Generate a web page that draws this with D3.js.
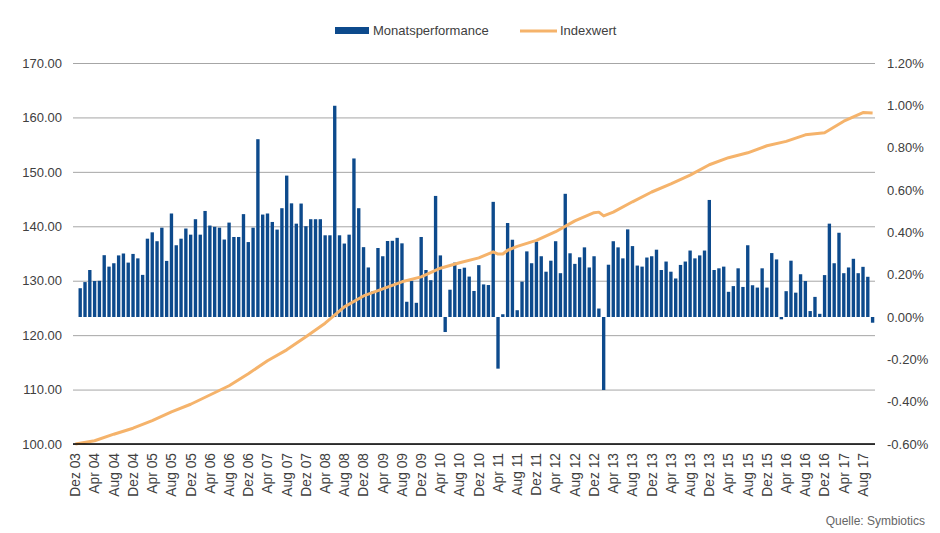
<!DOCTYPE html>
<html>
<head>
<meta charset="utf-8">
<script src="https://cdn.jsdelivr.net/npm/d3@7"></script>
<style>
  body { margin: 0; background: #fff; }
  text { font-family: "Liberation Sans", Arial, sans-serif; fill: #404040; }
</style>
</head>
<body>
<div id="chart"></div>
<script>
// Monate (Kategorien)
var months = [
  "Dez 03",
  "Jan 04","Feb 04","Mrz 04","Apr 04","Mai 04","Jun 04","Jul 04","Aug 04","Sep 04","Okt 04","Nov 04","Dez 04",
  "Jan 05","Feb 05","Mrz 05","Apr 05","Mai 05","Jun 05","Jul 05","Aug 05","Sep 05","Okt 05","Nov 05","Dez 05",
  "Jan 06","Feb 06","Mrz 06","Apr 06","Mai 06","Jun 06","Jul 06","Aug 06","Sep 06","Okt 06","Nov 06","Dez 06",
  "Jan 07","Feb 07","Mrz 07","Apr 07","Mai 07","Jun 07","Jul 07","Aug 07","Sep 07","Okt 07","Nov 07","Dez 07",
  "Jan 08","Feb 08","Mrz 08","Apr 08","Mai 08","Jun 08","Jul 08","Aug 08","Sep 08","Okt 08","Nov 08","Dez 08",
  "Jan 09","Feb 09","Mrz 09","Apr 09","Mai 09","Jun 09","Jul 09","Aug 09","Sep 09","Okt 09","Nov 09","Dez 09",
  "Jan 10","Feb 10","Mrz 10","Apr 10","Mai 10","Jun 10","Jul 10","Aug 10","Sep 10","Okt 10","Nov 10","Dez 10",
  "Jan 11","Feb 11","Mrz 11","Apr 11","Mai 11","Jun 11","Jul 11","Aug 11","Sep 11","Okt 11","Nov 11","Dez 11",
  "Jan 12","Feb 12","Mrz 12","Apr 12","Mai 12","Jun 12","Jul 12","Aug 12","Sep 12","Okt 12","Nov 12","Dez 12",
  "Jan 13","Feb 13","Mrz 13","Apr 13","Mai 13","Jun 13","Jul 13","Aug 13","Sep 13","Okt 13","Nov 13","Dez 13",
  "Jan 14","Feb 14","Mrz 14","Apr 14","Mai 14","Jun 14","Jul 14","Aug 14","Sep 14","Okt 14","Nov 14","Dez 14",
  "Jan 15","Feb 15","Mrz 15","Apr 15","Mai 15","Jun 15","Jul 15","Aug 15","Sep 15","Okt 15","Nov 15","Dez 15",
  "Jan 16","Feb 16","Mrz 16","Apr 16","Mai 16","Jun 16","Jul 16","Aug 16","Sep 16","Okt 16","Nov 16","Dez 16",
  "Jan 17","Feb 17","Mrz 17","Apr 17","Mai 17","Jun 17","Jul 17","Aug 17","Sep 17","Okt 17"
];

// Monatsperformance in %
var performance = [
  null,
  0.136,0.165,0.222,0.170,0.171,0.292,0.238,0.254,0.291,0.300,0.257,0.298,
  0.277,0.199,0.370,0.400,0.358,0.422,0.265,0.489,0.339,0.370,0.418,0.389,
  0.462,0.389,0.501,0.432,0.426,0.422,0.366,0.446,0.378,0.378,0.486,0.354,
  0.422,0.840,0.484,0.489,0.449,0.413,0.514,0.668,0.537,0.441,0.536,0.429,
  0.462,0.462,0.462,0.386,0.386,0.998,0.386,0.347,0.389,0.749,0.514,0.330,
  0.234,0.123,0.326,0.287,0.359,0.360,0.374,0.348,0.072,0.171,0.067,0.378,
  0.222,0.174,0.572,0.291,-0.071,0.129,0.257,0.227,0.233,0.191,0.123,0.245,
  0.154,0.151,0.544,-0.244,0.013,0.444,0.365,0.032,0.167,0.310,0.254,0.356,
  0.287,0.214,0.266,0.358,0.207,0.582,0.301,0.251,0.282,0.329,0.234,0.287,
  0.040,-0.345,0.247,0.358,0.329,0.277,0.414,0.335,0.243,0.238,0.281,0.287,
  0.318,0.222,0.262,0.214,0.182,0.246,0.262,0.314,0.277,0.291,0.314,0.553,
  0.222,0.230,0.238,0.119,0.146,0.230,0.142,0.339,0.150,0.139,0.230,0.139,
  0.302,0.272,-0.011,0.122,0.266,0.115,0.202,0.170,0.028,0.095,0.015,0.198,
  0.441,0.254,0.398,0.207,0.234,0.275,0.207,0.237,0.190,-0.027
];

var indexMonths = [
  "Dez 03","Apr 04","Aug 04","Dez 04","Apr 05","Aug 05","Dez 05","Apr 06","Aug 06","Dez 06",
  "Apr 07","Aug 07","Dez 07","Apr 08","Aug 08","Dez 08","Apr 09","Aug 09","Dez 09","Apr 10",
  "Aug 10","Dez 10","Mrz 11","Apr 11","Mai 11","Jun 11","Aug 11","Dez 11","Apr 12","Aug 12",
  "Dez 12","Jan 13","Feb 13","Apr 13","Aug 13","Dez 13","Apr 14","Aug 14","Dez 14","Apr 15",
  "Aug 15","Dez 15","Apr 16","Aug 16","Dez 16","Apr 17","Aug 17","Okt 17"
];
var indexValues = [
  100.0,100.6,101.8,102.9,104.3,105.9,107.3,109.0,110.7,112.9,
  115.3,117.3,119.7,122.2,125.2,127.2,128.5,129.8,130.7,132.3,
  133.3,134.2,135.3,134.9,134.9,135.6,136.3,137.4,139.0,141.0,
  142.5,142.6,141.9,142.6,144.5,146.3,147.8,149.4,151.3,152.6,
  153.5,154.8,155.6,156.8,157.2,159.3,160.9,160.8
];

// Achsenbeschriftung wie im Original (jeder 4. Monat)
var tickLabels = [
  "Dez 03","Apr 04","Aug 04","Dez 04","Apr 05","Aug 05","Dez 05","Apr 06","Aug 06","Dez 06",
  "Apr 07","Aug 07","Dez 07","Apr 08","Aug 08","Dez 08","Apr 09","Aug 09","Dez 09","Apr 10",
  "Aug 10","Dez 10","Apr 11","Aug 11","Dez 11","Apr 12","Aug 12","Dez 12","Apr 13","Aug 13",
  "Dez 13","Apr 13","Aug 13","Dez 13","Apr 15","Aug 15","Dez 15","Apr 16","Aug 16","Dez 16",
  "Apr 17","Aug 17"
];
var leftTicks = [100, 110, 120, 130, 140, 150, 160, 170];
var rightTicks = [-0.6, -0.4, -0.2, 0, 0.2, 0.4, 0.6, 0.8, 1.0, 1.2];

var width = 940, height = 533;
var plotLeft = 73, plotRight = 875, plotTop = 63, plotBottom = 444;
var barColor = "#0d4a8c", lineColor = "#f5b36b";

var svg = d3.select("#chart").append("svg")
    .attr("width", width)
    .attr("height", height);

var x = d3.scaleBand().domain(months).range([plotLeft, plotRight]).paddingInner(0.3).paddingOuter(0.15);
var yL = d3.scaleLinear().domain([100, 170]).range([plotBottom, plotTop]);
var yR = d3.scaleLinear().domain([-0.6, 1.2]).range([plotBottom, plotTop]);

// Gitterlinien + linke Achse
var axL = svg.append("g")
    .attr("transform", "translate(" + plotLeft + ",0)")
    .call(d3.axisLeft(yL).tickValues(leftTicks).tickSize(-(plotRight - plotLeft)).tickPadding(11)
        .tickFormat(function (d) { return d.toFixed(2); }));
axL.select(".domain").remove();
axL.selectAll("line").attr("stroke", "#a6a6a6").attr("stroke-width", 1);
axL.selectAll("text").style("font-size", "13px").style("fill", "#404040");

// rechte Achse
var axR = svg.append("g")
    .attr("transform", "translate(" + plotRight + ",0)")
    .call(d3.axisRight(yR).tickValues(rightTicks).tickSize(0).tickPadding(12)
        .tickFormat(function (d) { return d.toFixed(2) + "%"; }));
axR.select(".domain").remove();
axR.selectAll("text").style("font-size", "13px").style("fill", "#404040");

// Balken
svg.append("g").selectAll("rect")
    .data(months.map(function (m, i) { return { m: m, v: performance[i] }; })
        .filter(function (d) { return d.v !== null; }))
    .enter().append("rect")
    .attr("x", function (d) { return x(d.m); })
    .attr("width", x.bandwidth())
    .attr("y", function (d) { return yR(Math.max(0, d.v)); })
    .attr("height", function (d) { return Math.abs(yR(d.v) - yR(0)); })
    .attr("fill", barColor);

// Linie
var line = d3.line()
    .x(function (d) { return x(d.m) + x.bandwidth() / 2; })
    .y(function (d) { return yL(d.v); });
svg.append("path")
    .datum(indexMonths.map(function (m, i) { return { m: m, v: indexValues[i] }; }))
    .attr("d", line)
    .attr("fill", "none")
    .attr("stroke", lineColor)
    .attr("stroke-width", 3)
    .attr("stroke-linejoin", "round");

// x-Achse
var tickMonths = months.filter(function (m, i) { return i % 4 === 0; }).slice(0, tickLabels.length);
var axX = svg.append("g")
    .attr("transform", "translate(0," + plotBottom + ")")
    .call(d3.axisBottom(x).tickValues(tickMonths).tickSize(0).tickPadding(0)
        .tickFormat(function (d, i) { return tickLabels[i]; }));
axX.select(".domain").attr("stroke", "#000").attr("stroke-width", 1.5)
    .attr("d", "M" + plotLeft + ",0H" + plotRight);
axX.selectAll("text")
    .style("font-size", "13.8px").style("fill", "#404040")
    .attr("text-anchor", "end")
    .attr("dy", "0.35em")
    .attr("transform", "translate(0,9) rotate(-90)")
    .attr("x", 0).attr("y", 0);

// Legende
var lg = svg.append("g");
lg.append("rect").attr("x", 335).attr("y", 27).attr("width", 34).attr("height", 7).attr("fill", barColor);
lg.append("text").attr("x", 373).attr("y", 35).style("font-size", "13px").text("Monatsperformance");
lg.append("line").attr("x1", 520).attr("x2", 557).attr("y1", 31).attr("y2", 31)
    .attr("stroke", lineColor).attr("stroke-width", 3);
lg.append("text").attr("x", 560).attr("y", 35).style("font-size", "13px").text("Indexwert");

// Quelle
svg.append("text").attr("x", 925).attr("y", 525).attr("text-anchor", "end")
    .style("font-size", "12px").style("fill", "#666").text("Quelle: Symbiotics");
</script>
</body>
</html>
